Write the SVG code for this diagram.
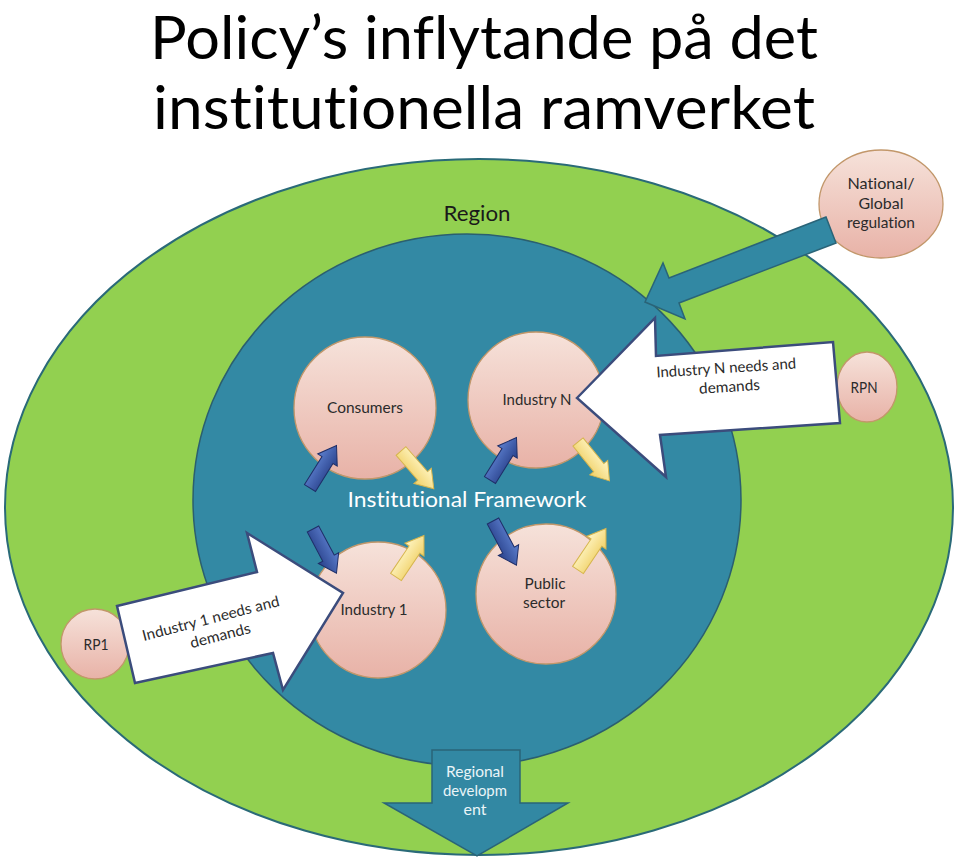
<svg xmlns="http://www.w3.org/2000/svg" width="960" height="857" viewBox="0 0 960 857">
<defs>
<linearGradient id="pink" x1="0" y1="0" x2="0" y2="1">
<stop offset="0" stop-color="#f6e2da"/>
<stop offset="1" stop-color="#e8b2a7"/>
</linearGradient>
<linearGradient id="blueG" x1="0" y1="0" x2="0" y2="1">
<stop offset="0" stop-color="#5d80cf"/>
<stop offset="1" stop-color="#28408a"/>
</linearGradient>
<linearGradient id="yellowG" x1="0" y1="0" x2="0" y2="1">
<stop offset="0" stop-color="#fff6c6"/>
<stop offset="1" stop-color="#f0d066"/>
</linearGradient>
<path id="sa" d="M0,-6.5 L33,-6.5 L33,-11.5 L50,0 L33,11.5 L33,6.5 L0,6.5 Z"/>
</defs>
<style>
text{font-family:Lato,"Open Sans","Liberation Sans",sans-serif;font-variant-ligatures:none;font-feature-settings:"liga" 0,"clig" 0;}
.title{font-size:60px;fill:#000;}
.lbl{font-size:15px;fill:#2b2b2b;text-anchor:middle;}
.node{fill:url(#pink);stroke:#c2976a;stroke-width:1.3;}
.big{fill:#ffffff;stroke:#3b4c7c;stroke-width:2.5;stroke-linejoin:miter;}
.teal{fill:#3288a3;stroke:#2a6478;stroke-width:1.5;}
.sb{fill:url(#blueG);stroke:#1f2f68;stroke-width:1;}
.sy{fill:url(#yellowG);stroke:#d6b54e;stroke-width:1;}
.wt{fill:#eaf5f8;font-size:15px;text-anchor:middle;}
</style>
<rect width="960" height="857" fill="#ffffff"/>
<text class="title" x="150" y="59" textLength="668" lengthAdjust="spacingAndGlyphs">Policy’s inflytande på det</text>
<text class="title" x="153" y="129" textLength="662" lengthAdjust="spacingAndGlyphs">institutionella ramverket</text>

<g id="region">
<ellipse cx="479" cy="507" rx="474" ry="348" fill="#92d050" stroke="#2a6a78" stroke-width="2"/>
<text x="477" y="221" font-size="22" fill="#1a1a1a" text-anchor="middle" textLength="67" lengthAdjust="spacingAndGlyphs">Region</text>
</g>
<g id="institutional-framework">
<ellipse cx="467" cy="500" rx="274" ry="266" fill="#3389a4" stroke="#2b5f6f" stroke-width="1.5"/>
<text x="467" y="507" font-size="21" fill="#ffffff" text-anchor="middle" textLength="239" lengthAdjust="spacingAndGlyphs">Institutional Framework</text>
</g>

<g id="national-global-regulation">
<ellipse class="node" cx="881" cy="204" rx="62" ry="54"/>
<text class="lbl" x="881" y="189" textLength="67" lengthAdjust="spacingAndGlyphs">National/</text>
<text class="lbl" x="881" y="209" textLength="45" lengthAdjust="spacingAndGlyphs">Global</text>
<text class="lbl" x="881" y="228" textLength="68" lengthAdjust="spacingAndGlyphs">regulation</text>
</g>
<g id="consumers">
<circle class="node" cx="365" cy="408" r="71"/>
<text class="lbl" x="365" y="413" textLength="76" lengthAdjust="spacingAndGlyphs">Consumers</text>
</g>
<g id="industry-n">
<circle class="node" cx="536" cy="400" r="68"/>
<text class="lbl" x="537" y="405" textLength="69" lengthAdjust="spacingAndGlyphs">Industry N</text>
</g>
<g id="industry-1">
<circle class="node" cx="378" cy="610" r="68"/>
<text class="lbl" x="374" y="615" textLength="67" lengthAdjust="spacingAndGlyphs">Industry 1</text>
</g>
<g id="public-sector">
<circle class="node" cx="546" cy="594" r="70"/>
<text class="lbl" x="545" y="589" textLength="41" lengthAdjust="spacingAndGlyphs">Public</text>
<text class="lbl" x="544" y="608" textLength="42" lengthAdjust="spacingAndGlyphs">sector</text>
</g>
<g id="rpn">
<ellipse class="node" cx="867" cy="387" rx="30" ry="35"/>
<text class="lbl" x="864" y="393" textLength="27" lengthAdjust="spacingAndGlyphs">RPN</text>
</g>
<g id="rp1">
<ellipse class="node" cx="95" cy="644" rx="34" ry="35"/>
<text class="lbl" x="96" y="650" textLength="25" lengthAdjust="spacingAndGlyphs">RP1</text>
</g>

<g id="connectors">
<polygon class="teal" points="826,217 669,278 663,263 645,302 685,319 679,303 836,243"/>
<polygon class="teal" points="432,750 520,750 520,803 568,803 477,856 384,803 432,803"/>
<text class="wt" x="475" y="777" textLength="58" lengthAdjust="spacingAndGlyphs">Regional</text>
<text class="wt" x="475" y="796" textLength="64" lengthAdjust="spacingAndGlyphs">developm</text>
<text class="wt" x="475" y="815" textLength="23" lengthAdjust="spacingAndGlyphs">ent</text>

<polygon class="big" points="577,398 655,318 656,356 833,342 840,423 660,435 666,477"/>
<g transform="rotate(-3.7 727 380)">
<text class="lbl" x="727" y="373" font-size="16" fill="#111" textLength="140" lengthAdjust="spacingAndGlyphs">Industry N needs and</text>
<text class="lbl" x="729" y="392" font-size="16" fill="#111" textLength="61" lengthAdjust="spacingAndGlyphs">demands</text>
</g>
<polygon class="big" points="117,606 257,572 247,533 343,593 283,690 273,653 135,683"/>
<g transform="rotate(-14.5 214 627)">
<text class="lbl" x="213" y="623" font-size="16" fill="#111" textLength="141" lengthAdjust="spacingAndGlyphs">Industry 1 needs and</text>
<text class="lbl" x="218" y="642" font-size="16" fill="#111" textLength="62" lengthAdjust="spacingAndGlyphs">demands</text>
</g>

<use href="#sa" class="sb" transform="translate(310,488) rotate(-58)"/>
<use href="#sa" class="sb" transform="translate(490,480) rotate(-58)"/>
<use href="#sa" class="sb" transform="translate(313,529) rotate(62)"/>
<use href="#sa" class="sb" transform="translate(493,521) rotate(62)"/>
<use href="#sa" class="sy" transform="translate(401,451) rotate(49)"/>
<use href="#sa" class="sy" transform="translate(578,442) rotate(51)"/>
<use href="#sa" class="sy" transform="translate(396,577) rotate(-56)"/>
<use href="#sa" class="sy" transform="translate(578,570) rotate(-56)"/>
</g>
</svg>
